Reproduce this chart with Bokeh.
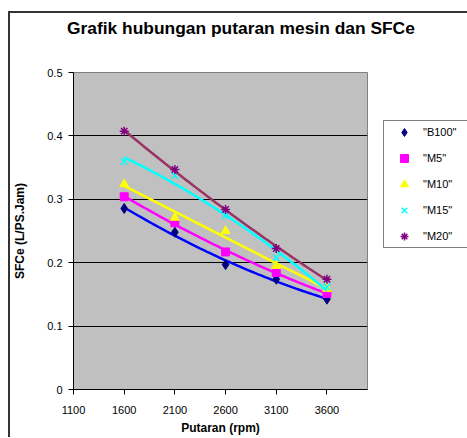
import numpy as np
from bokeh.plotting import figure
from bokeh.models import (Range1d, FixedTicker, Legend, LegendItem, Div)
from bokeh.layouts import column
from bokeh.embed import file_html
from bokeh.resources import INLINE

rpm = [1600, 2100, 2600, 3100, 3600]
series_names = ['"B100"', '"M5"', '"M10"', '"M15"', '"M20"']
b100 = [0.2855, 0.248, 0.197, 0.174, 0.1425]
m5 = [0.304, 0.263, 0.217, 0.1845, 0.1514]
m10 = [0.324, 0.271, 0.250, 0.195, 0.159]
m15 = [0.3596, 0.3375, 0.274, 0.2077, 0.162]
m20 = [0.4075, 0.347, 0.284, 0.2224, 0.174]
x_ticks = [1100, 1600, 2100, 2600, 3100, 3600]
y_ticks = [0, 0.1, 0.2, 0.3, 0.4, 0.5]
y_labels = ["0", "0.1", "0.2", "0.3", "0.4", "0.5"]
title_text = "Grafik hubungan putaran mesin dan SFCe"

marker_colors = ["#000080", "#FF00FF", "#FFFF00", "#00FFFF", "#800080"]
line_colors = ["#0000FF", "#FF00FF", "#FFFF00", "#00FFFF", "#993366"]
markers = ["diamond", "square", "triangle", "x", "asterisk"]
marker_sizes = [10, 8, 9, 9, 9]

FONT = "Liberation Sans"

title_div = Div(
    text=('<div style="padding:5px 0 0 57px; font-family:\'Liberation Sans\', Arial, sans-serif; '
          'font-weight:bold; font-size:17.4px; line-height:21px; color:black; white-space:nowrap">'
          + title_text + '</div>'),
    width=455, height=30, margin=0)

p = figure(frame_width=294, frame_height=317,
           min_border_left=60, min_border_top=29, min_border_right=103,
           min_border_bottom=44,
           x_range=Range1d(1100, 4000), y_range=Range1d(0, 0.5),
           output_backend="svg", toolbar_location=None,
           background_fill_color="#C0C0C0", border_fill_color="white",
           outline_line_color="#808080")

p.xgrid.visible = False
p.ygrid.grid_line_color = "black"
p.ygrid.grid_line_width = 1
p.ygrid.ticker = FixedTicker(ticks=y_ticks)

for ax in (p.xaxis[0], p.yaxis[0]):
    ax.axis_line_color = "black"
    ax.major_tick_line_color = "black"
    ax.minor_tick_line_color = None
    ax.major_tick_out = 5
    ax.major_tick_in = 0
    ax.major_label_text_font = FONT
    ax.major_label_text_font_size = "11px"
    ax.major_label_text_color = "black"
    ax.axis_label_text_font = FONT
    ax.axis_label_text_font_size = "12px"
    ax.axis_label_text_font_style = "bold"
    ax.axis_label_text_color = "black"

p.xaxis.ticker = FixedTicker(ticks=x_ticks)
p.yaxis.ticker = FixedTicker(ticks=y_ticks)
p.yaxis.major_label_overrides = {t: l for t, l in zip(y_ticks, y_labels)}
p.xaxis.axis_label = "Putaran (rpm)"
p.yaxis.axis_label = "SFCe (L/PS.Jam)"
p.xaxis.major_label_standoff = 11
p.xaxis.axis_label_standoff = 4
p.yaxis.major_label_standoff = 6
p.yaxis.axis_label_standoff = 17

xs_fit = np.linspace(rpm[0], rpm[-1], 60)
items = []
for name, vals, mc, lc, mk, ms in zip(series_names, [b100, m5, m10, m15, m20],
                                      marker_colors, line_colors, markers, marker_sizes):
    coef = np.polyfit(rpm, vals, 2)
    p.line(xs_fit, np.polyval(coef, xs_fit), line_color=lc, line_width=2.5)
    r = p.scatter(rpm, vals, marker=mk, size=ms, fill_color=mc, line_color=mc,
                  line_width=1.5 if mk in ("x", "asterisk") else 1)
    items.append(LegendItem(label=name, renderers=[r]))

legend = Legend(items=items, location=(16, 141),
                label_text_font=FONT, label_text_font_size="11px",
                label_text_color="black",
                glyph_width=38, glyph_height=20, label_height=20, label_width=45,
                label_standoff=-2, spacing=6, padding=1, margin=0,
                border_line_color="black", border_line_width=1,
                background_fill_color="white", background_fill_alpha=1)
p.add_layout(legend, "right")

layout = column(title_div, p, margin=(11, 0, 0, 8), spacing=0,
                styles={"border-left": "2px solid #333333",
                        "border-top": "2px solid #333333"})

open("out.html", "w").write(file_html(layout, INLINE))
